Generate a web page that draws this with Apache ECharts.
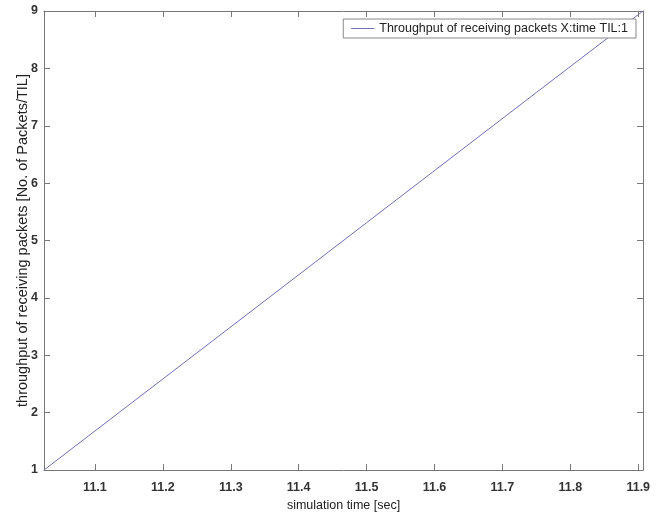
<!DOCTYPE html>
<html>
<head>
<meta charset="utf-8">
<script src="https://cdn.jsdelivr.net/npm/echarts@6/dist/echarts.min.js"></script>
<style>html,body{margin:0;padding:0;background:#fff}#c{width:665px;height:517px}</style>
</head>
<body>
<div id="c"></div>
<script>
const times = [11.025, 11.25, 11.5, 11.75, 11.907];
const throughput = [1, 3.04, 5.31, 7.58, 9];
const xTicks = [11.1, 11.2, 11.3, 11.4, 11.5, 11.6, 11.7, 11.8, 11.9];
const seriesName = 'Throughput of receiving packets X:time TIL:1';

const chart = echarts.init(document.getElementById('c'));
const axisCol = '#777';
const font = 'Liberation Sans, Arial, sans-serif';
const xCommon = {
  type: 'value', min: 11.025, max: 11.907,
  axisLine: {show: true, lineStyle: {color: axisCol, width: 1}},
  axisTick: {show: true, inside: true, length: 6, customValues: xTicks, lineStyle: {color: axisCol}},
  splitLine: {show: false}
};
const yCommon = {
  type: 'value', min: 1, max: 9, interval: 1,
  axisLine: {show: true, lineStyle: {color: axisCol, width: 1}},
  axisTick: {show: true, inside: true, length: 6, lineStyle: {color: axisCol}},
  splitLine: {show: false}
};
chart.setOption({
  animation: false,
  grid: {left: 44, right: 22, top: 11, bottom: 44, containLabel: false},
  legend: {
    show: true, right: 29, top: 19, data: [seriesName],
    backgroundColor: '#fff', borderColor: '#888', borderWidth: 1, borderRadius: 0,
    padding: [3, 8, 3, 8], itemWidth: 23, itemHeight: 1, itemGap: 6,
    icon: 'rect',
    textStyle: {fontFamily: font, fontSize: 12.5, color: '#222'}
  },
  xAxis: [
    Object.assign({}, xCommon, {
      position: 'bottom',
      name: 'simulation time [sec]', nameLocation: 'middle', nameGap: 29,
      nameTextStyle: {fontFamily: font, fontSize: 12.5, color: '#222'},
      axisLabel: {show: true, customValues: xTicks, margin: 11, fontFamily: font, fontSize: 12.5, color: '#333', fontWeight: 'bold',
        formatter: v => v.toFixed(1)}
    }),
    Object.assign({}, xCommon, {position: 'top', axisLabel: {show: false}})
  ],
  yAxis: [
    Object.assign({}, yCommon, {
      position: 'left',
      name: 'throughput of receiving packets [No. of Packets/TIL]', nameLocation: 'middle', nameGap: 14,
      nameMoveOverlap: false,
      nameTextStyle: {fontFamily: font, fontSize: 14.5, color: '#222'},
      axisLabel: {show: true, margin: 6, fontFamily: font, fontSize: 12.5, color: '#333', fontWeight: 'bold'}
    }),
    Object.assign({}, yCommon, {position: 'right', axisLabel: {show: false}})
  ],
  series: [{
    name: seriesName, type: 'line', xAxisIndex: 0, yAxisIndex: 0,
    data: times.map((t, i) => [t, throughput[i]]),
    showSymbol: false, symbol: 'none',
    lineStyle: {color: '#6f70b8', width: 1},
    itemStyle: {color: '#6f70b8'}
  }]
});
</script>
</body>
</html>
